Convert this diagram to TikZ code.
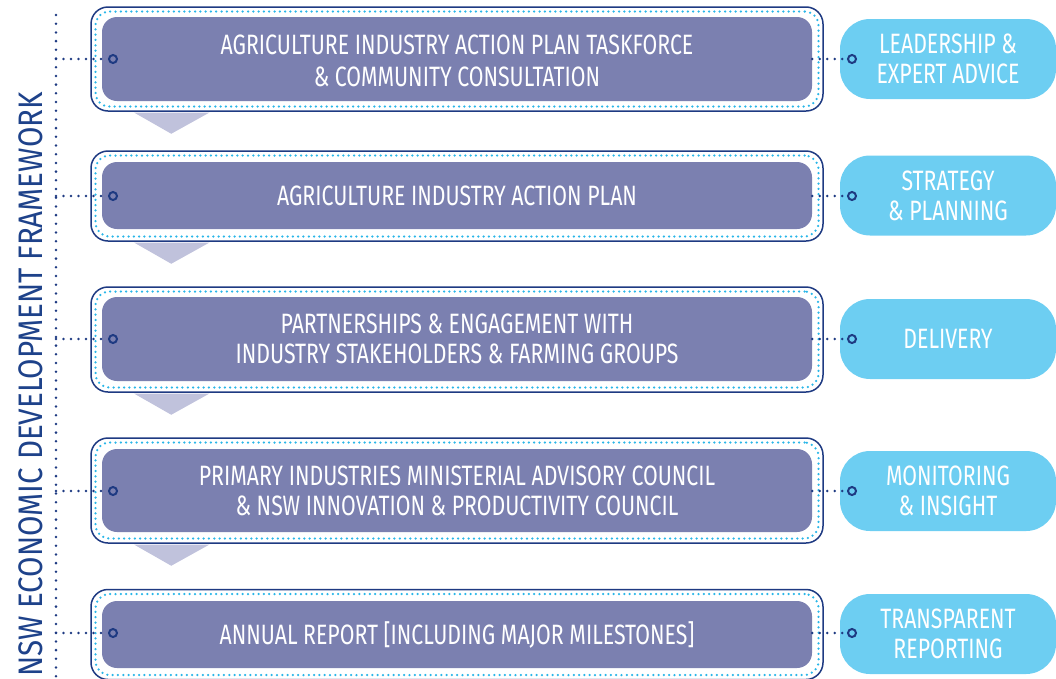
\documentclass[tikz,border=0pt]{standalone}
\usepackage{fontspec}
\setmainfont[FakeStretch=0.76]{Fira Sans}
\newfontfamily\titlefont[FakeStretch=0.87]{Fira Sans}
\definecolor{boxfill}{RGB}{123,128,176}
\definecolor{pillc}{RGB}{109,206,242}
\definecolor{navy}{RGB}{30,58,130}
\definecolor{dotcyan}{RGB}{41,182,232}
\definecolor{tric}{RGB}{192,194,220}
\definecolor{titleblue}{RGB}{30,66,138}
\tikzset{
 outerbox/.style={draw=navy, line width=1.5pt, rounded corners=17pt, minimum width=732pt, inner sep=0pt},
 dotbox/.style={draw=dotcyan, line width=2.5pt, dash pattern=on 0pt off 5.3pt, line cap=round, rounded corners=14pt, minimum width=723pt, inner sep=0pt},
 mainbox/.style={fill=boxfill, rounded corners=15pt, minimum width=710pt, text=white, font=\fontsize{28}{30}\selectfont, align=center, inner sep=0pt},
 pillbox/.style={fill=pillc, rounded corners=30pt, minimum width=216pt, minimum height=80pt, text=white, font=\fontsize{28}{30}\selectfont, align=center, inner sep=0pt},
 port/.style={circle, draw=navy, line width=2pt, minimum size=8pt, inner sep=0pt},
 conn/.style={draw=navy, line width=2.6pt, dash pattern=on 0pt off 7.5pt, line cap=round},
 vconn/.style={draw=navy, line width=2.8pt, dash pattern=on 0pt off 8.7pt, line cap=round},
 tri/.style={fill=tric}
}
\begin{document}
\begin{tikzpicture}[x=1pt,y=-1pt]
\useasboundingbox (0,0) rectangle (1056,678);
% left title and vertical dotted line
\node[rotate=90, anchor=base west, text=titleblue, font=\titlefont\fontsize{34}{34}\selectfont, inner sep=0pt] (title) at (42,677) {NSW ECONOMIC DEVELOPMENT FRAMEWORK};
\coordinate (vtop) at (56,15);
\coordinate (vbot) at (56,680);
\draw[vconn] (vtop) -- (vbot);
% row 1
\node[outerbox, minimum height=104pt] (o1) at (457,59) {};
\node[dotbox, minimum height=95pt] (d1) at (457,59) {};
\node[mainbox, minimum height=84pt] (m1) at (457,59) {};
\node[text=white, font=\fontsize{28}{32}\selectfont, align=center, inner sep=0pt] (t1) at (457,61) {AGRICULTURE INDUSTRY ACTION PLAN TASKFORCE\\\& COMMUNITY CONSULTATION};
\node[port] (p1) at (113,59) {};
\node[pillbox] (s1) at (948,59) {LEADERSHIP \&\\EXPERT ADVICE};
\node[port] (q1) at (852,59) {};
\coordinate (v1) at (56,59);
% row 2
\node[outerbox, minimum height=90pt] (o2) at (457,196) {};
\node[dotbox, minimum height=81pt] (d2) at (457,196) {};
\node[mainbox, minimum height=67pt] (m2) at (457,195.5) {AGRICULTURE INDUSTRY ACTION PLAN};
\node[port] (p2) at (113,196) {};
\node[pillbox] (s2) at (948,195.5) {STRATEGY\\\& PLANNING};
\node[port] (q2) at (852,196) {};
\coordinate (v2) at (56,196);
% row 3
\node[outerbox, minimum height=105pt] (o3) at (457,339.5) {};
\node[dotbox, minimum height=96pt] (d3) at (457,339.5) {};
\node[mainbox, minimum height=84pt] (m3) at (457,339) {PARTNERSHIPS \& ENGAGEMENT WITH\\INDUSTRY STAKEHOLDERS \& FARMING GROUPS};
\node[port] (p3) at (113,339) {};
\node[pillbox] (s3) at (948,339) {DELIVERY};
\node[port] (q3) at (852,339) {};
\coordinate (v3) at (56,339);
% row 4
\node[outerbox, minimum height=105pt] (o4) at (457,490.5) {};
\node[dotbox, minimum height=96pt] (d4) at (457,490.5) {};
\node[mainbox, minimum height=83pt] (m4) at (457,490.5) {PRIMARY INDUSTRIES MINISTERIAL ADVISORY COUNCIL\\\& NSW INNOVATION \& PRODUCTIVITY COUNCIL};
\node[port] (p4) at (113,491) {};
\node[pillbox] (s4) at (948,491) {MONITORING\\\& INSIGHT};
\node[port] (q4) at (852,491) {};
\coordinate (v4) at (56,491);
% row 5
\node[outerbox, minimum height=90pt] (o5) at (457,634.5) {};
\node[dotbox, minimum height=81pt] (d5) at (457,634.5) {};
\node[mainbox, minimum height=67pt] (m5) at (457,634.5) {ANNUAL REPORT [INCLUDING MAJOR MILESTONES]};
\node[port] (p5) at (113,633) {};
\node[pillbox] (s5) at (948,634) {TRANSPARENT\\REPORTING};
\node[port] (q5) at (852,633) {};
\coordinate (v5) at (56,633);
% connectors
\foreach \i in {1,...,5}{
  \draw[conn] (v\i) -- (p\i.west);
  \draw[conn] (m\i.east |- q\i) -- (q\i.west);
}
% down triangles
\foreach \i in {1,...,4}{
  \fill[tri] ([xshift=44pt,yshift=-0.9pt]o\i.south west) -- ([xshift=119pt,yshift=-0.9pt]o\i.south west) -- ([xshift=81pt,yshift=-22pt]o\i.south west) -- cycle;
}
\end{tikzpicture}
\end{document}
